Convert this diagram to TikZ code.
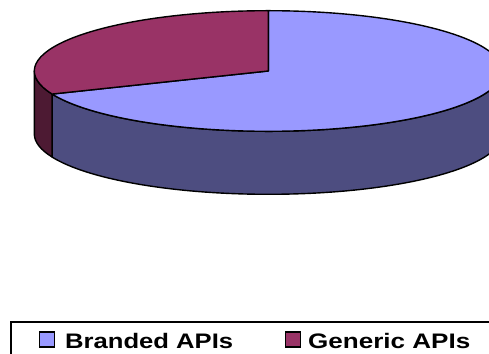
\documentclass[tikz,border=0pt]{standalone}
\usepackage{fontspec}
\setmainfont{Liberation Sans}
\definecolor{branded}{HTML}{9999FF}
\definecolor{brandedside}{HTML}{4D4D80}
\definecolor{generic}{HTML}{993366}
\definecolor{genericside}{HTML}{4D1A33}
\tikzset{
  outline/.style={draw=black,line width=1.4pt,line join=round},
  legtext/.style={anchor=base west,inner sep=0pt,font=\fontsize{21}{25}\selectfont\bfseries},
  legsq/.style={draw=black,line width=1.6pt,minimum width=15pt,minimum height=15pt,inner sep=0pt,anchor=south west}
}
\begin{document}
\begin{tikzpicture}[x=1pt,y=1pt]
\useasboundingbox (0,0) rectangle (489,353);
\clip (0,0) rectangle (489,353);
\fill[white] (0,0) rectangle (489,353);
\coordinate (C) at (268.3,282);
\def\rx{234pt}
\def\ry{60.3pt}
% sides
\path[outline,fill=brandedside] (C) ++(202.5:{234pt} and {60.3pt}) coordinate (G1)
  arc[start angle=202.5,end angle=360,x radius=\rx,y radius=\ry]
  -- ++(0,-63) arc[start angle=360,end angle=202.5,x radius=\rx,y radius=\ry] -- cycle;
\path[outline,fill=genericside] (C) ++(180:{234pt} and {60.3pt})
  arc[start angle=180,end angle=202.5,x radius=\rx,y radius=\ry]
  -- ++(0,-63) arc[start angle=202.5,end angle=180,x radius=\rx,y radius=\ry] -- cycle;
% top
\path[outline,fill=branded] (C) -- (G1)
  arc[start angle=202.5,end angle=450,x radius=\rx,y radius=\ry] -- cycle;
\path[outline,fill=generic] (C) -- ++(0,60.3)
  arc[start angle=90,end angle=202.5,x radius=\rx,y radius=\ry] -- cycle;
% legend
\draw[line width=1.3pt] (11,-10) rectangle (500,31);
\node[legsq,fill=branded] (sqb) at (38.5,5.5) {};
\node[legtext] (tb) at (65,5) {\scalebox{1.22}[1]{Branded APIs}};
\node[legsq,fill=generic] (sqg) at (284.5,5.5) {};
\node[legtext] (tg) at (308,5) {\scalebox{1.24}[1]{Generic APIs}};
\end{tikzpicture}
\end{document}
